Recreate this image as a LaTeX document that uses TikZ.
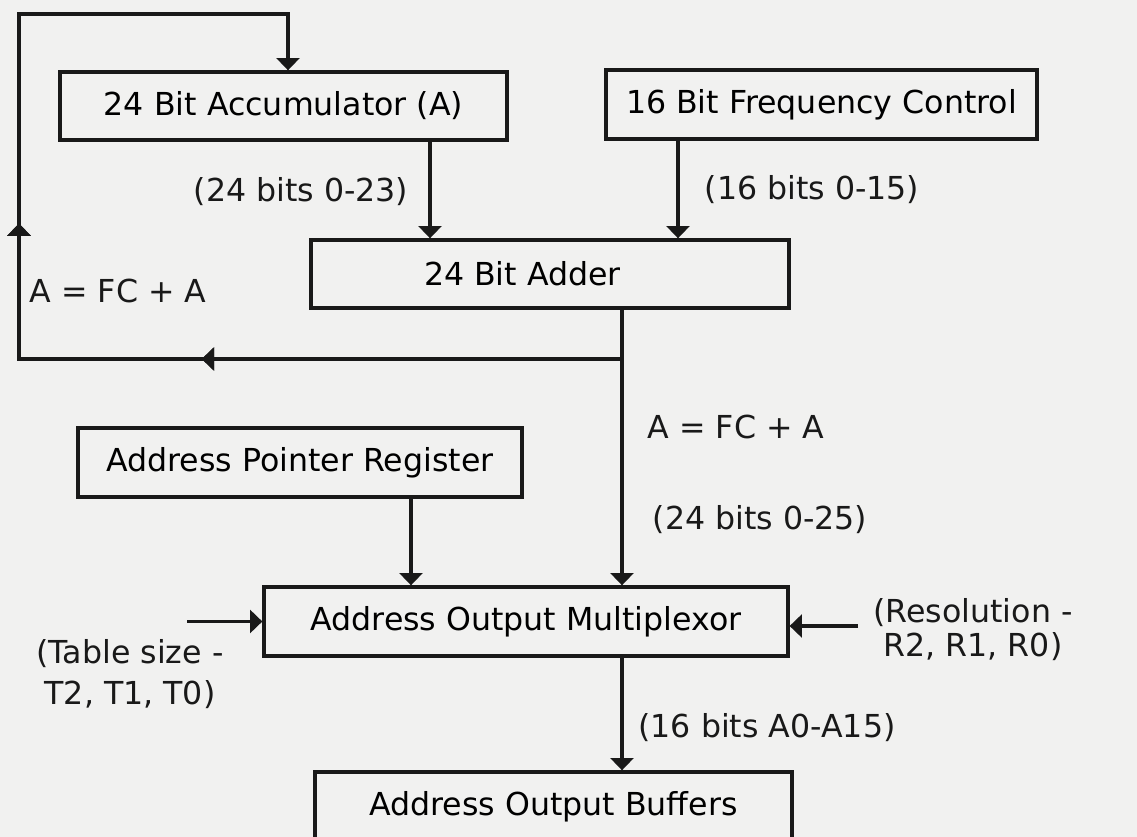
\documentclass[tikz,border=0pt]{standalone}
\usepackage{fontspec}
\setmainfont{DejaVu Sans}
\usetikzlibrary{arrows.meta,decorations.markings}
\definecolor{paper}{RGB}{241,241,240}
\definecolor{ink}{RGB}{25,25,25}

\tikzset{
  block/.style={draw=ink, line width=1.9pt, inner sep=0pt, align=center},
  wire/.style={draw=ink, line width=1.9pt},
  flow/.style={wire, -{Triangle[width=13pt,length=7pt]}},
  midarrow/.style={postaction={decorate}, decoration={markings,
    mark=at position #1 with {\arrow{Triangle[width=13pt,length=7pt]}}}},
  lbl/.style={text=ink, inner sep=0pt, align=center}
}

\begin{document}
\begin{tikzpicture}[x=0.02cm, y=-0.02cm, font=\fontsize{18}{20.5}\selectfont]
\fill[paper] (0,0) rectangle (1137,837);
\useasboundingbox (0,0) rectangle (1137,837);

% blocks
\node[block, minimum width=8.94cm, minimum height=1.36cm] (acc) at (283.5,106) {24 Bit Accumulator (A)};
\node[block, minimum width=8.62cm, minimum height=1.38cm] (freq) at (821.5,104.5) {16 Bit Frequency Control};
\node[block, minimum width=9.56cm, minimum height=1.36cm] (adder) at (550,274) {24 Bit Adder\hspace*{1.1cm}};
\node[block, minimum width=8.88cm, minimum height=1.38cm] (apr) at (300,462.5) {Address Pointer Register};
\node[block, minimum width=10.48cm, minimum height=1.38cm] (mux) at (526,621.5) {Address Output Multiplexor};
\node[block, minimum width=9.54cm, minimum height=1.40cm] (buf) at (553.5,807) {Address Output Buffers};

% columns and loop corners
\coordinate (colA) at (430,0);
\coordinate (colF) at (678,0);
\coordinate (colS) at (622,0);
\coordinate (colP) at (411,0);
\coordinate (colT) at (288,0);
\coordinate (split) at (622,359);
\coordinate (botL) at (19,359);
\coordinate (topL) at (19,14);
\coordinate (tsin) at (187,621.5);
\coordinate (resin) at (858,626);

% data paths
\draw[flow] (acc.south -| colA) -- (adder.north -| colA);
\draw[flow] (freq.south -| colF) -- (adder.north -| colF);
\draw[flow] (adder.south -| colS) -- (mux.north -| colS);
\draw[flow] (apr.south -| colP) -- (mux.north -| colP);
\draw[flow] (mux.south -| colS) -- (buf.north -| colS);
\draw[flow] (tsin) -- (mux.west);
\draw[flow] (resin) -- (resin -| mux.east);

% feedback loop
\draw[flow, midarrow=0.33, midarrow=0.58, line join=miter]
  (split) -- (botL) -- (topL) -- (topL -| colT) -- (acc.north -| colT);

% labels
\node[lbl] (l24a) at (301,192) {(24 bits 0-23)};
\node[lbl] (l16) at (812,190) {(16 bits 0-15)};
\node[lbl] (fbl) at (118,291) {A = FC + A};
\node[lbl] (fbm) at (736,427) {A = FC + A};
\node[lbl] (l24b) at (760,520) {(24 bits 0-25)};
\node[lbl] (l16b) at (767,728) {(16 bits A0-A15)};
\node[lbl] (tsz) at (130,674) {(Table size -\\[0.1cm]T2, T1, T0)};
\node[lbl] (res) at (973,630) {(Resolution -\\[-1.2pt]R2, R1, R0)};
\end{tikzpicture}
\end{document}
